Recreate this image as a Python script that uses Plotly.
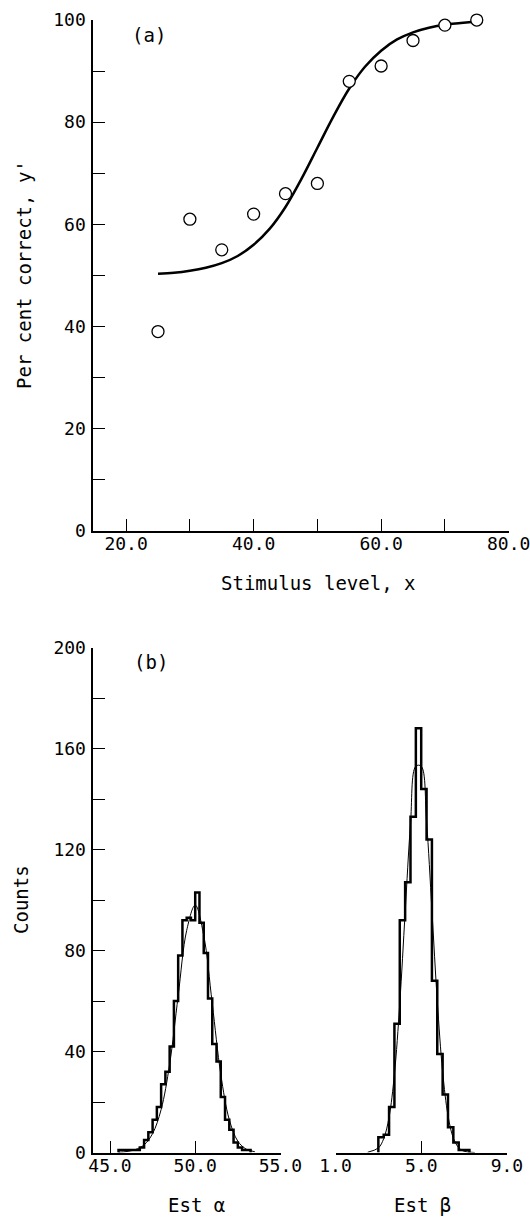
import plotly.graph_objects as go

# ---------------- data: panel (a) ----------------
stim_level = [25, 30, 35, 40, 45, 50, 55, 60, 65, 70, 75]
pct_correct = [39, 61, 55, 62, 66, 68, 88, 91, 96, 99, 100]

fit_x = [25, 27.5, 30, 32.5, 35, 37.5, 40, 42.5, 45, 47.5, 50, 52.5, 55,
         57.5, 60, 62.5, 65, 67.5, 70, 72.5, 75]
fit_y = [50.3, 50.5, 50.9, 51.5, 52.4, 53.8, 56.0, 59.1, 63.4, 68.9, 75.0,
         81.1, 86.6, 90.9, 94.0, 96.2, 97.6, 98.5, 99.1, 99.4, 99.7]

# ---------------- data: panel (b) ----------------
# histogram of estimated alpha: left bin edges (width 0.25) and counts
alpha_edges = [45.5, 45.75, 46.0, 46.25, 46.5, 46.75, 47.0, 47.25, 47.5, 47.75,
               48.0, 48.25, 48.5, 48.75, 49.0, 49.25, 49.5, 49.75, 50.0, 50.25,
               50.5, 50.75, 51.0, 51.25, 51.5, 51.75, 52.0, 52.25, 52.5, 52.75,
               53.0, 53.25]
alpha_counts = [1, 1, 1, 1, 1, 2, 5, 8, 13, 18, 27, 32, 42, 60, 78, 92, 93, 92,
                103, 91, 79, 61, 43, 36, 22, 13, 9, 4, 2, 1, 1]
alpha_fit_x = [45.5, 46.0, 46.5, 47.0, 47.5, 48.0, 48.5, 49.0, 49.5, 50.0,
               50.5, 51.0, 51.5, 52.0, 52.5, 53.0, 53.5]
alpha_fit_y = [0.1, 0.4, 1.2, 3.0, 7.5, 17, 35, 62, 88, 98, 86, 59, 31,
               13, 4.5, 1.3, 0.3]

# histogram of estimated beta
beta_edges = [3.0, 3.25, 3.5, 3.75, 4.0, 4.25, 4.5, 4.75, 5.0, 5.25, 5.5,
              5.75, 6.0, 6.25, 6.5, 6.75, 7.0, 7.25]
beta_counts = [6, 7, 18, 51, 92, 107, 133, 168, 144, 124, 68, 39, 23, 10, 4,
               1, 1]
beta_fit_x = [2.5, 3.0, 3.25, 3.5, 3.75, 4.0, 4.25, 4.5, 4.75, 5.0, 5.25, 5.5,
              5.75, 6.0, 6.25, 6.5, 6.75, 7.0, 7.5]
beta_fit_y = [0.1, 1.8, 5.5, 14, 31, 59, 95, 130, 153, 153, 131, 96, 60, 32,
              14.7, 5.7, 1.9, 0.5, 0.0]

# ---------------- layout helpers ----------------
W, H = 530, 1218


def fx(px):
    return px / W


def fy(py):
    return 1 - py / H


FONT = "DejaVu Sans Mono"
TICKFONT = dict(family=FONT, size=18, color="black")


def step_path(edges, counts):
    xs = [edges[0]] + list(edges)
    ys = [0] + list(counts) + [0]
    return xs, ys


fig = go.Figure()

# panel (a)
fig.add_trace(go.Scatter(x=fit_x, y=fit_y, mode="lines", line_shape="spline",
                         line=dict(color="black", width=2.5),
                         xaxis="x", yaxis="y", showlegend=False, cliponaxis=False))
fig.add_trace(go.Scatter(x=stim_level, y=pct_correct, mode="markers",
                         marker=dict(symbol="circle", size=12, color="white",
                                     line=dict(color="black", width=1.3)),
                         xaxis="x", yaxis="y", showlegend=False, cliponaxis=False))

# panel (b) alpha
ax, ay = step_path(alpha_edges, alpha_counts)
fig.add_trace(go.Scatter(x=ax, y=ay, mode="lines", line_shape="hv",
                         line=dict(color="black", width=2.5),
                         xaxis="x2", yaxis="y2", showlegend=False, cliponaxis=False))
fig.add_trace(go.Scatter(x=alpha_fit_x, y=alpha_fit_y, mode="lines", line_shape="spline",
                         line=dict(color="black", width=1),
                         xaxis="x2", yaxis="y2", showlegend=False, cliponaxis=False))

# panel (b) beta
bx, by = step_path(beta_edges, beta_counts)
fig.add_trace(go.Scatter(x=bx, y=by, mode="lines", line_shape="hv",
                         line=dict(color="black", width=2.5),
                         xaxis="x3", yaxis="y2", showlegend=False, cliponaxis=False))
fig.add_trace(go.Scatter(x=beta_fit_x, y=beta_fit_y, mode="lines", line_shape="spline",
                         line=dict(color="black", width=1),
                         xaxis="x3", yaxis="y2", showlegend=False, cliponaxis=False))

common = dict(showline=True, linecolor="black", linewidth=1.5, ticks="inside",
              ticklen=12, tickwidth=1.3, tickcolor="black", showgrid=False,
              zeroline=False, tickfont=TICKFONT, fixedrange=True,
              automargin=False, ticklabeloverflow="allow")


def minor(d, t0=0):
    return dict(dtick=d, tick0=t0, ticks="inside", ticklen=12, tickwidth=1.3,
                tickcolor="black", showgrid=False)


XSTAND = -4
fig.update_layout(
    template="none",
    width=W, height=H, autosize=False,
    margin=dict(l=0, r=0, t=0, b=0, pad=0, autoexpand=False),
    paper_bgcolor="white", plot_bgcolor="white",
    hovermode=False,
    xaxis=dict(common, domain=[fx(93.1), fx(508.7)], range=[14.82, 80.01],
               anchor="y", tick0=20, dtick=20, tickformat=".1f",
               minor=minor(10), ticklabelstandoff=XSTAND),
    yaxis=dict(common, domain=[fy(530.7), fy(20)], range=[0, 100.01],
               anchor="x", tick0=0, dtick=20, minor=minor(10),
               ticklabelstandoff=2),
    xaxis2=dict(common, domain=[fx(93.3), fx(280.5)], range=[44.02, 55.005],
                anchor="y2", tick0=45, dtick=5, tickformat=".1f",
                ticklabelstandoff=XSTAND),
    xaxis3=dict(common, domain=[fx(335.5), fx(507)], range=[1, 9.004],
                anchor="y2", tick0=1, dtick=4, tickformat=".1f",
                ticklabelstandoff=XSTAND),
    yaxis2=dict(common, domain=[fy(1152.5), fy(647.5)], range=[0, 200.02],
                anchor="x2", tick0=0, dtick=40, minor=minor(20),
                ticklabelstandoff=2),
)

TFONT = dict(family=FONT, size=19, color="black")
annos = [
    ("(a)", 148.8, 35.5, 0),
    ("(b)", 151, 661.5, 0),
    ("Stimulus level, x", 317.6, 583, 0),
    ("Per cent correct, y'", 24, 275, -90),
    ("Counts", 21, 900, -90),
    ("Est α", 196, 1205, 0),
    ("Est β", 422, 1205, 0),
]
for text, px, py, ang in annos:
    fig.add_annotation(text=text, x=fx(px), y=fy(py), xref="paper", yref="paper",
                       xanchor="center", yanchor="middle", showarrow=False,
                       textangle=ang, font=TFONT)

# remove the browser's default 8px page margin so the 530x1218 figure fills
# the window exactly; hide the mode bar
fig.write_html(
    "out.html",
    config={"displayModeBar": False, "staticPlot": False},
    post_script="document.body.style.margin='0';document.body.style.overflow='hidden';",
)
